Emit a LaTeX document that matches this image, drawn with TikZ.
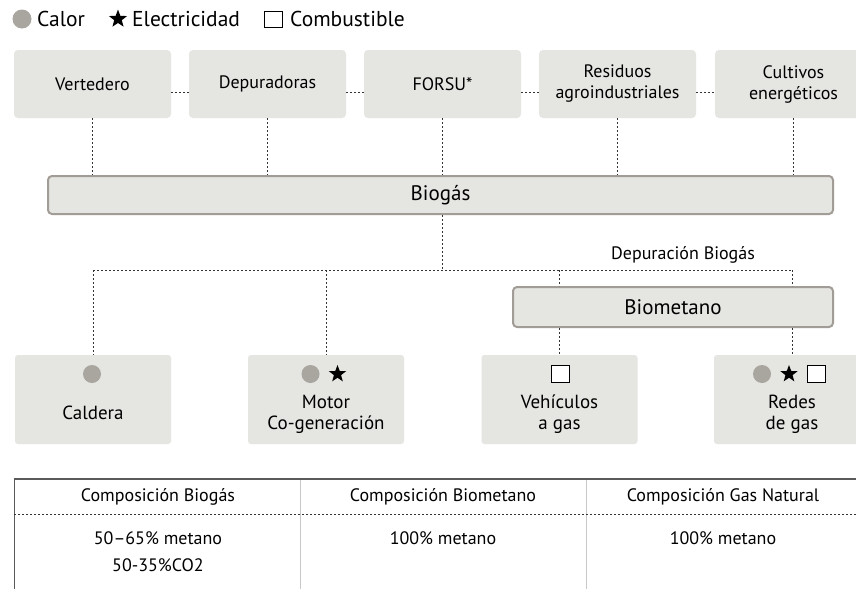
\documentclass[tikz,border=0pt]{standalone}
\usepackage{fontspec}
\setmainfont{PT Sans}
\usetikzlibrary{shapes.geometric}
\definecolor{boxgray}{HTML}{E5E5E2}
\definecolor{icongray}{HTML}{A9A59F}
\definecolor{bordergray}{HTML}{A19D96}
\definecolor{dotcol}{HTML}{333333}
\definecolor{rulegray}{HTML}{5A5A5A}
\definecolor{lightrule}{HTML}{C8C8C8}
\begin{document}
\begin{tikzpicture}[x=1pt,y=-1pt,
  srcbox/.style={fill=boxgray, rounded corners=4pt, minimum width=157pt, minimum height=68pt, align=center, inner sep=0pt, font=\fontsize{18}{21}\selectfont},
  usebox/.style={fill=boxgray, rounded corners=3pt, minimum width=156pt, minimum height=89pt, inner sep=0pt},
  bigbar/.style={fill=boxgray, draw=bordergray, line width=2pt, rounded corners=4pt, inner sep=0pt, font=\fontsize{21}{25}\selectfont},
  dotline/.style={draw=dotcol, line width=0.9pt, dash pattern=on 2pt off 2pt},
  lbl/.style={align=center, inner sep=0pt, font=\fontsize{19}{21}\selectfont},
  tbl/.style={align=center, inner sep=0pt, font=\fontsize{18}{27}\selectfont},
  legtext/.style={anchor=west, inner sep=0pt, font=\fontsize{21.5}{25}\selectfont},
  dotico/.style={circle, fill=icongray, minimum size=18pt, inner sep=0pt},
  staricon/.style={star, star points=5, star point ratio=2.4, fill=black, minimum size=18pt, inner sep=0pt},
  sqicon/.style={draw=black, fill=white, line width=0.8pt, minimum width=18pt, minimum height=17pt, inner sep=0pt}
]
\useasboundingbox (0,0) rectangle (856,589);
\fill[white] (0,0) rectangle (856,589);

% legend
\node[dotico, minimum size=19pt] (lc) at (22,19) {};
\node[legtext] (lct) at (37,19) {Calor};
\node[staricon, minimum size=19pt] (ls) at (118,19) {};
\node[legtext] (lst) at (132,19) {Electricidad};
\node[sqicon, minimum width=18pt, minimum height=16pt] (lq) at (273.5,19) {};
\node[legtext] (lqt) at (290,19) {Combustible};

% source boxes
\node[srcbox] (vert) at (92.5,84) {Vertedero};
\node[srcbox] (dep) at (267.5,84) {Depuradoras};
\node[srcbox] (forsu) at (442.5,84) {FORSU*};
\node[srcbox] (resid) at (617.5,84) {Residuos\\agroindustriales};
\node[srcbox] (cult) at (793.5,84) {Cultivos\\energéticos};

\draw[dotline] ([yshift=-8pt]vert.east) -- ([yshift=-8pt]dep.west);
\draw[dotline] ([yshift=-8pt]dep.east) -- ([yshift=-8pt]forsu.west);
\draw[dotline] ([yshift=-8pt]forsu.east) -- ([yshift=-8pt]resid.west);
\draw[dotline] ([yshift=-8pt]resid.east) -- ([yshift=-8pt]cult.west);

% biogas bar
\node[bigbar, minimum width=785pt, minimum height=38pt] (bio) at (440.5,195) {Biogás};
\foreach \n in {vert,dep,forsu,resid,cult}
  \draw[dotline] (\n.south) -- (\n.south |- bio.north);

% use boxes
\node[usebox] (cald) at (93,399.5) {};
\node[usebox] (motor) at (326,399.5) {};
\node[usebox] (veh) at (559.5,399.5) {};
\node[usebox] (redes) at (792,399.5) {};

% biometano bar
\node[bigbar, minimum width=320pt, minimum height=40pt] (biomet) at (673,307) {Biometano};
\node[inner sep=0pt, font=\fontsize{18}{21}\selectfont] (dep2) at (683,255) {Depuración Biogás};

\coordinate (j) at (442,270);
\draw[dotline] (forsu.south |- bio.south) -- (forsu.south |- j);
\draw[dotline] (cald.north |- j) -- (redes.north |- j);
\draw[dotline] (cald.north |- j) -- (cald.north);
\draw[dotline] (motor.north |- j) -- (motor.north);
\draw[dotline] (veh.north |- j) -- (veh.north |- biomet.north);
\draw[dotline] (redes.north |- j) -- (redes.north |- biomet.north);
\draw[dotline] (veh.north |- biomet.south) -- (veh.north);
\draw[dotline] (redes.north |- biomet.south) -- (redes.north);

% icons
\node[dotico] (c1) at (92,374) {};
\node[dotico] (c2) at (310.5,374) {};
\node[staricon] (s2) at (337.5,374) {};
\node[sqicon] (q3) at (560,374) {};
\node[dotico] (c4) at (762,374) {};
\node[staricon] (s4) at (789,374) {};
\node[sqicon] (q4) at (816,374) {};

% labels
\node[lbl] (tcald) at (93,413) {Caldera};
\node[lbl] (tmotor) at (326,414) {Motor\\Co-generación};
\node[lbl] (tveh) at (559.5,414) {Vehículos\\a gas};
\node[lbl] (tredes) at (792,414) {Redes\\de gas};

% table
\draw[lightrule, line width=0.9pt] (300,479) -- (300,589);
\draw[lightrule, line width=0.9pt] (586,479) -- (586,589);
\draw[rulegray, line width=1pt] (14,479) -- (14,589);
\draw[rulegray, line width=1.6pt] (13.5,479) -- (856,479);
\draw[dotline] (14,514) -- (856,514);
\node[tbl] (h1) at (158,497) {Composición Biogás};
\node[tbl] (h2) at (443,497) {Composición Biometano};
\node[tbl] (h3) at (723,497) {Composición Gas Natural};
\node[tbl] (r1) at (158,551.5) {50–65\% metano\\50-35\%CO2};
\node[tbl] (r2) at (443,538) {100\% metano};
\node[tbl] (r3) at (723,538) {100\% metano};
\end{tikzpicture}
\end{document}
